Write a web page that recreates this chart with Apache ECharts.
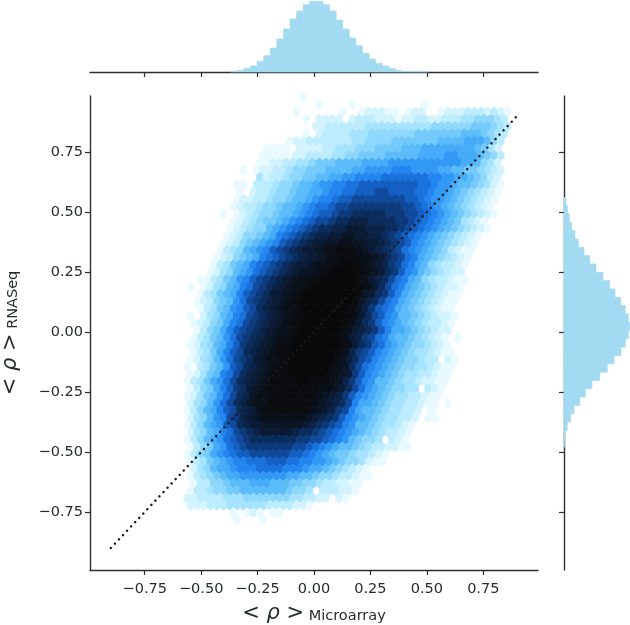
<!DOCTYPE html>
<html><head><meta charset="utf-8">
<style>html,body{margin:0;padding:0;background:#fff}#c{width:630px;height:625px;filter:blur(0.45px)}</style>
<script src="https://cdn.jsdelivr.net/npm/echarts@6/dist/echarts.min.js"></script>
</head><body><div id="c"></div>
<script>
const tickValues=[-0.75,-0.5,-0.25,0,0.25,0.5,0.75];
const diagonal=[[-0.9,-0.9],[0.9,0.9]];
const xLabel='Microarray', yLabel='RNASeq';
// top marginal histogram
const topHistStart=-0.3692, topHistStep=0.0292;
const topHist=[0.7,1.7,3.7,6,10.7,16.3,24,33,43,53,61,67.3,70.7,70.7,67.3,61,52,43,34,26.3,18.7,13,8.7,6,3.7,1.7,0.7,0.4,0.4,0.3];
// right marginal histogram (top bin first)
const rightHistStart=0.5613, rightHistStep=0.0347;
const rightHist=[2,3.5,5.3,7.7,11,14.3,20,25.7,32,39,45.7,51,56.7,61.3,64.3,65.7,64.3,61.3,57,50,43.3,35.7,28,21.3,15.7,10,6.7,3.3,1,0.5];
// hex lattice
const hexX0=-0.5467, hexXStep=0.02924, hexY0=0.9775, hexYStep=0.03035;
// shade level per hexagon, top row first; '.' = empty, 1..9 a..l = light to dark
const hexRows=[
".................1",
"....................1....1..........1",
"................1......1..122211.122..12223332321",
"..................1.2222.233322212233223334455543",
"...................223333334444444444555555666543",
"..................1.23333444555555566666667776543",
"...............122333333344555566666667777888753",
"............1111.2222334445556666777888888887642",
"...........1111122333344556666777778888998887653",
"...........1122334456667777888899999999999887542",
"........1.122334556667777889999aaa99998877665432",
"...........42334556677889 9aaaabbbbbbbaa998876532".replace(' ',''),
".......11.333455677899aabbcccccccccbba9987765421",
"........1.233455677889aabbcccddccccbba9987654321",
".......1223345567789aabccddddddddccba9987654321",
".......123345567789abbcddeeeeeeeeddcba987654321",
".....1.12345567789abccdeefffffeeeddcba987654321",
".......1234566789abcddeffgggffffeedcba98764321",
"......123455789abcdeffgghhhgggffedcba987654321",
"......12355678abcdefgghhiihhggfedcba987654321",
".....12356789acdefghhiijjiihhgfedca987654321",
".....1345789acdefghhijjkkkjihgfedba987653211",
"....1235678abcdefghhijjkkkjjihfedba87654321",
"....134678abcdefghhijjkkllkjihgedba87543321",
"...1245789bcdefghiijkkllllkjihfeca97654322",
"..1134679acdefghijjkklllllkjhgfdba875433211",
"1.124578abdefghijjklllllllkjhfdba876543221",
"..134678acdefhhijkllllllllkihfeca876543211",
".1235679bdefghijkllllllllkigfdba876543211",
"..134679acdfghijjklllllllkigecba876543211",
"1.24578abdefghijkkllllllkjhfdca9776543221",
".123568abdefghijkkllllllkjhfeca9876543321",
".13568acdefghijjkllllllkjhgfeca887654322",
".134679bdefghijjkllllllkjhgedba877654321.1",
"124578acefghijkklllllllkjhfecb9876554321",
".13468acdfghijkklllllllkjgedca98765443211",
"124579bdefhijjklllllllkjhfdca987655433.21",
"1.34679cdfghijkkllllllkjifdba987655443211",
"12467abdfghijkkllllllkjiheca987654433211",
"134689bdfghijkkkkllkkkjigeca977654432211",
"13568acefhijkkkkkkkkjjihfdb98765544.321",
"124679bdfgijjkkkkkkkjihgeca987654433211",
"24579bdfgijjkkkkkkkjihgfda887654433211.1",
"13578acdfghjkkkkkkkjihgeda8776544332.1",
"24579adeghijjjjjjjihgfeca9876544332.11",
"135789cdfghhiiiiiihgfedca9776544321",
"24578abdefghhhhhgffedcba9876543321",
"135789bcdefffffffeeddcba976554.321",
"135689bcdeeeeeeeddcba9877654332211",
"135689abccddddddccba98766544321",
"1346789aabbbcccbbaa99876554211",
".2457889aaabbbbaaa9887654321",
"1345678899999998877655433211",
".13355677788877766554332211",
"133455667777777 6554.333221".replace(' ',''),
"2233334445555555443322.21",
"2223334444443333221",
".......1.121.11",
".......1...1"
];
const palette=['#ffffff','#e8faff','#d3f4ff','#bdecff','#a6e3fe','#8ed8fd','#74cbfb','#5cbcfa','#46abf8','#3298f5','#2385f0','#1a72dd','#145fc2','#104a9c','#0d3a7a','#0b2d5e','#0a2347','#0a1b35','#0a1526','#0a101a','#0a0c10','#090909'];
const xLim=0.9925, yMin=-0.9917, yMax=0.9833;
const textColor='#262c2e', lineColor='#2b2f31', histColor='#a2daf1', font='"DejaVu Sans"';

const hexData=[];
hexRows.forEach((s,k)=>{for(let c=0;c<s.length;c++){ if(s[c]==='.')continue;
  const x=hexX0+hexXStep*c-(k%2===0?0:hexXStep/2);
  hexData.push([x,hexY0-hexYStep*k,parseInt(s[c],36)]);}});
const fmt=v=>v.toFixed(2).replace('-','\u2212');
const tickCommon={show:true,length:5,inside:false,customValues:tickValues,lineStyle:{color:lineColor,width:1.2}};
const lineCommon={show:true,onZero:false,lineStyle:{color:lineColor,width:1.4}};
const labelCommon={show:true,customValues:tickValues,formatter:fmt,color:textColor,fontFamily:font,fontSize:14.5,margin:7};
const rich={a:{fontFamily:font,fontSize:21,color:textColor},b:{fontFamily:font,fontStyle:'italic',fontSize:21,color:textColor},
  s:{fontFamily:font,fontSize:14.5,color:textColor,padding:[6,0,0,0]}};
const nameOf=t=>'{a|< }{b|\u03c1}{a| >}{s| '+t+'}';

const chart=echarts.init(document.getElementById('c'),null,{renderer:'canvas'});
chart.setOption({animation:false,backgroundColor:'#fff',
 grid:[{left:90,top:96,width:448,height:474,outerBoundsMode:'none'},{left:90,top:0,width:448,height:72,outerBoundsMode:'none'},{left:564,top:96,width:66,height:474,outerBoundsMode:'none'}],
 xAxis:[
  {type:'value',gridIndex:0,min:-xLim,max:xLim,splitLine:{show:false},axisLine:lineCommon,axisTick:tickCommon,axisLabel:Object.assign({},labelCommon,{margin:12}),
   name:nameOf(xLabel),nameLocation:'middle',nameGap:33,nameTextStyle:{rich}},
  {type:'value',gridIndex:1,min:-xLim,max:xLim,splitLine:{show:false},axisLine:lineCommon,axisTick:tickCommon,axisLabel:{show:false}},
  {type:'value',gridIndex:2,min:0,max:66,show:false}
 ],
 yAxis:[
  {type:'value',gridIndex:0,min:yMin,max:yMax,splitLine:{show:false},axisLine:lineCommon,axisTick:tickCommon,axisLabel:labelCommon,
   name:nameOf(yLabel),nameLocation:'middle',nameGap:69,nameTextStyle:{rich}},
  {type:'value',gridIndex:1,min:0,max:72,show:false},
  {type:'value',gridIndex:2,min:yMin,max:yMax,splitLine:{show:false},axisLine:lineCommon,axisTick:tickCommon,axisLabel:{show:false}}
 ],
 series:[
  {type:'custom',xAxisIndex:0,yAxisIndex:0,data:hexData,clip:false,silent:true,z:2,
   renderItem:(p,api)=>{const x=api.value(0),y=api.value(1),l=api.value(2);
    const dx=hexXStep/2,h=hexYStep*2/3,q=hexYStep/3;
    const pts=[[x,y+h],[x+dx,y+q],[x+dx,y-q],[x,y-h],[x-dx,y-q],[x-dx,y+q]].map(v=>api.coord(v));
    return {type:'polygon',shape:{points:pts},style:{fill:palette[l],stroke:palette[l],lineWidth:0.9}};}},
  {type:'line',xAxisIndex:0,yAxisIndex:0,data:diagonal,showSymbol:false,silent:true,z:5,
   lineStyle:{color:'#151a1c',width:2.5,type:[0.01,5.9],cap:'round'}},
  {type:'custom',xAxisIndex:1,yAxisIndex:1,silent:true,data:topHist.map((v,i)=>[topHistStart+i*topHistStep,v]),z:1,
   renderItem:(p,api)=>{const a=api.coord([api.value(0),api.value(1)]),b=api.coord([api.value(0)+topHistStep,0]);
    return {type:'rect',shape:{x:a[0],y:a[1],width:b[0]-a[0],height:b[1]-a[1]},style:{fill:histColor,stroke:histColor,lineWidth:0.6}};}},
  {type:'custom',xAxisIndex:2,yAxisIndex:2,silent:true,data:rightHist.map((v,i)=>[v,rightHistStart-i*rightHistStep]),z:1,
   renderItem:(p,api)=>{const a=api.coord([0,api.value(1)]),b=api.coord([api.value(0),api.value(1)-rightHistStep]);
    return {type:'rect',shape:{x:a[0],y:a[1],width:b[0]-a[0],height:b[1]-a[1]},style:{fill:histColor,stroke:histColor,lineWidth:0.6}};}}
 ]});
</script></body></html>
